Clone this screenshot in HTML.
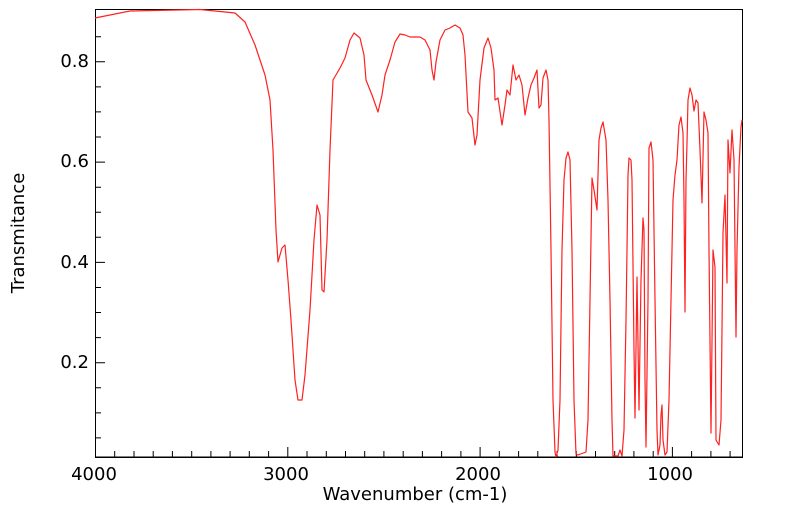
<!DOCTYPE html>
<html><head><meta charset="utf-8"><style>body{margin:0;background:#fff}svg{display:block}text{font-family:"DejaVu Sans",sans-serif;font-size:18px;fill:#000}</style></head><body>
<svg width="799" height="516" viewBox="0 0 799 516">
<rect x="95.5" y="9.5" width="647" height="447.5" fill="none" stroke="#000" stroke-width="1"/>
<g stroke="#000" stroke-width="1" id="ticks"></g>
<g text-anchor="middle">
<text x="94" y="480">4000</text><text x="286" y="480">3000</text><text x="478" y="480">2000</text><text x="670" y="480">1000</text>
</g>
<g text-anchor="end">
<text x="89" y="67">0.8</text><text x="89" y="167">0.6</text><text x="89" y="268">0.4</text><text x="89" y="368">0.2</text>
</g>
<text x="415" y="500" text-anchor="middle">Wavenumber (cm-1)</text>
<text transform="translate(24,233) rotate(-90)" text-anchor="middle">Transmitance</text>
<polyline fill="none" stroke="#ff2020" stroke-width="1.2" stroke-linejoin="round" points="95,18 130,11 200,9.5 235,13 245,22 255,45 265,75 270,100 273,150 276,230 278,262 282,248 285,245 288,280 291,320 295,380 298,400 302,400 305,375 310,310 314,240 317,205 320,215 322,290 324,292 327,240 330,150 333,80 340,68 345,58 350,40 354,33 360,38 364,55 366,80 372,95 378,112 382,95 385,75 390,60 395,42 400,34 405,35 410,37 420,37 425,40 430,50 432,70 434,80 436,62 440,40 445,30 450,28 455,25 460,28 463,35 465,55 468,112 472,118 475,145 477,135 480,80 484,48 488,38 491,48 494,70 495,100 498,98 502,125 505,105 507,90 510,95 513,65 516,80 519,75 522,85 525,115 528,98 531,85 534,78 537,70 539,108 541,105 543,78 546,70 548,80 549,120 551,250 553,400 555,452 556,457 558,450 560,400 562,250 564,180 566,158 568,152 570,160 572,250 574,400 576,454 578,455 586,452 588,420 590,300 592,178 594,190 597,210 599,140 601,128 603,122 606,140 608,200 610,300 612,420 613,456 618,456 620,450 622,456 624,430 626,320 627,250 628,175 629,158 631,160 632,180 634,350 635,418 637,277 639,410 641,280 643,218 644,230 645,380 646,447 648,300 649,148 651,142 653,160 655,300 657,430 658,455 660,445 661,415 662,405 663,440 665,455 667,452 669,400 671,300 673,200 675,175 677,160 679,125 681,117 683,133 684,200 685,312 686,180 687,143 688,100 690,88 692,95 694,111 696,100 698,103 700,150 702,203 704,112 706,120 708,133 709,250 711,433 713,250 715,267 716,440 719,445 721,420 722,330 723,233 725,195 727,283 728,140 730,173 732,130 734,160 736,337 737,250 739,167 741,127 742,120"/>
<script>
var g=document.getElementById('ticks'),d='M95.5 457V9.5M95 457.5H743';
for(var i=0;i<=33;i++){var x=95.5+i*19.23;var L=(i%10==0)?10:6;d+='M'+x.toFixed(1)+' 457V'+(457-L);}
for(var k=1;k<=17;k++){var v=k*0.05;var y=463-v*501.5;var L=(k%4==0)?10:6;d+='M95 '+y.toFixed(1)+'H'+(95+L);}
var p=document.createElementNS('http://www.w3.org/2000/svg','path');p.setAttribute('d',d);g.appendChild(p);
</script>
</svg>
</body></html>
